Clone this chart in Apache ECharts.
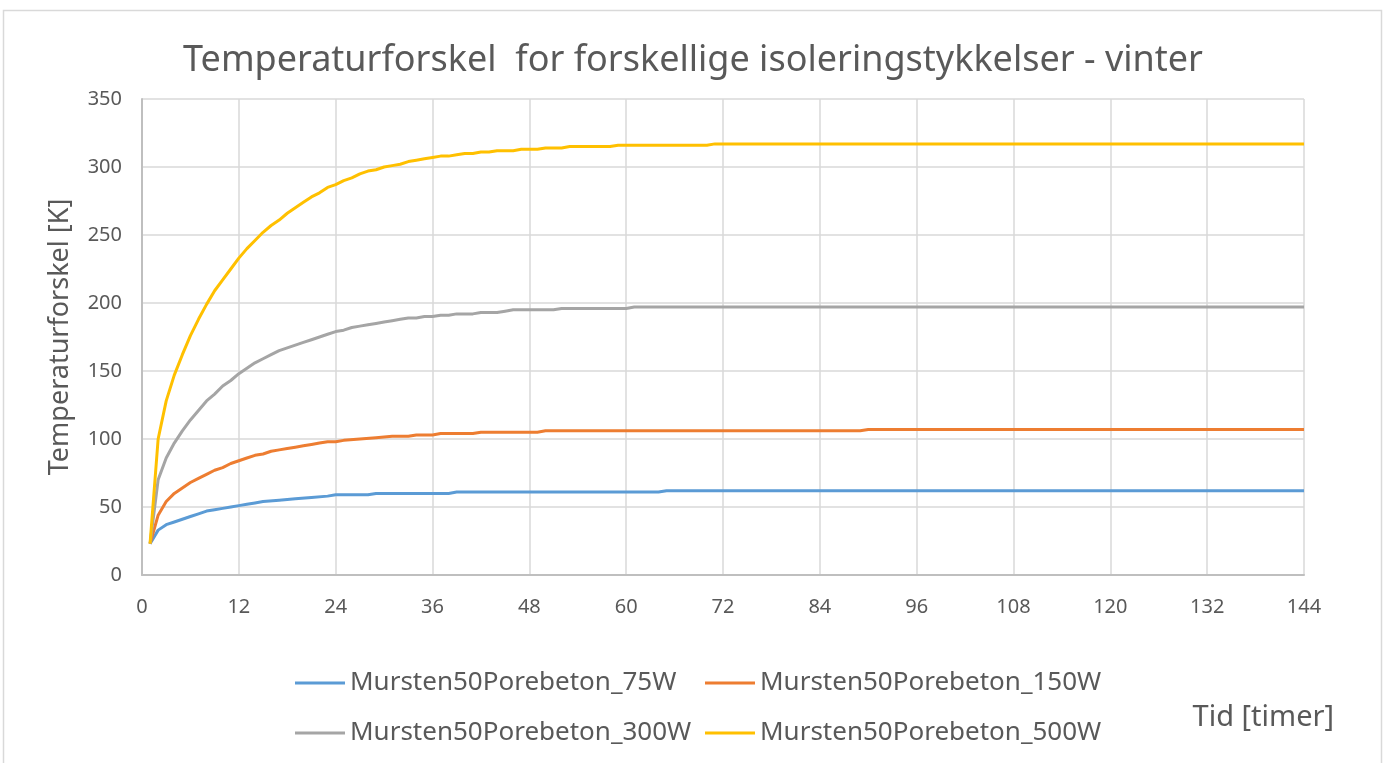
<!DOCTYPE html>
<html>
<head>
<meta charset="utf-8">
<script src="https://cdn.jsdelivr.net/npm/echarts@6/dist/echarts.min.js"></script>
<style>
  html, body { margin: 0; padding: 0; background: #ffffff; }
  #chart { width: 1386px; height: 763px; }
</style>
</head>
<body>
<div id="chart"></div>
<script>
// Temperaturforskel over tid for fire varmeeffekter (hourly breakpoints, integer kelvin)
const hours75 = [1,2,3,4,5,6,7,8,9,10,11,12,13,14,15,17,19,21,23,24,28,29,38,39,64,65,144];
const temp75  = [23,33,37,39,41,43,45,47,48,49,50,51,52,53,54,55,56,57,58,59,59,60,60,61,61,62,62];

const hours150 = [1,2,3,4,5,6,7,8,9,10,11,12,13,14,15,16,17,18,19,20,21,22,23,24,25,27,29,31,33,34,36,37,41,42,49,50,89,90,144];
const temp150  = [23,44,54,60,64,68,71,74,77,79,82,84,86,88,89,91,92,93,94,95,96,97,98,98,99,100,101,102,102,103,103,104,104,105,105,106,106,107,107];

const hours300 = [1,2,3,4,5,6,7,8,9,10,11,12,13,14,15,16,17,18,19,20,21,22,23,24,25,26,27,28,29,30,31,32,33,34,35,36,37,38,39,41,42,44,45,46,51,52,60,61,144];
const temp300  = [23,70,86,97,106,114,121,128,133,139,143,148,152,156,159,162,165,167,169,171,173,175,177,179,180,182,183,184,185,186,187,188,189,189,190,190,191,191,192,192,193,193,194,195,195,196,196,197,197];

const hours500 = [1,2,3,4,5,6,7,8,9,10,11,12,13,14,15,16,17,18,19,20,21,22,23,24,25,26,27,28,29,30,31,32,33,34,35,36,37,38,39,40,41,42,43,44,46,47,49,50,52,53,58,59,70,71,144];
const temp500  = [23,100,128,147,162,176,188,199,209,217,225,233,240,246,252,257,261,266,270,274,278,281,285,287,290,292,295,297,298,300,301,302,304,305,306,307,308,308,309,310,310,311,311,312,312,313,313,314,314,315,315,316,316,317,317];

const seriesNames = ['Mursten50Porebeton_75W', 'Mursten50Porebeton_150W', 'Mursten50Porebeton_300W', 'Mursten50Porebeton_500W'];
const seriesColors = ['#5b9bd5', '#ed7d31', '#a5a5a5', '#ffc000'];
const seriesHours = [hours75, hours150, hours300, hours500];
const seriesTemps = [temp75, temp150, temp300, temp500];

const titleText = 'Temperaturforskel  for forskellige isoleringstykkelser - vinter';
const yAxisTitle = 'Temperaturforskel [K]';
const xAxisTitle = 'Tid [timer]';

const FONT = '"Noto Sans", sans-serif';
const TEXT_COLOR = '#595959';

const zip = (xs, ys) => xs.map((x, i) => [x, ys[i]]);

const chart = echarts.init(document.getElementById('chart'), null, { renderer: 'canvas' });

const legendText = { fontFamily: FONT, fontSize: 26, color: TEXT_COLOR };
const legendBase = {
  orient: 'vertical',
  top: 670,
  padding: 0,
  itemGap: 24,
  itemWidth: 50,
  itemHeight: 3,
  icon: 'rect',
  textStyle: legendText
};

chart.setOption({
  animation: false,
  backgroundColor: '#ffffff',
  title: {
    text: titleText,
    left: 'center',
    top: 38,
    textStyle: { fontFamily: FONT, fontSize: 36, fontWeight: 'normal', color: TEXT_COLOR }
  },
  grid: { left: 142, right: 82, top: 99, bottom: 188, containLabel: false },
  legend: [
    Object.assign({}, legendBase, { data: [seriesNames[0], seriesNames[2]], left: 295 }),
    Object.assign({}, legendBase, { data: [seriesNames[1], seriesNames[3]], left: 705 })
  ],
  xAxis: {
    type: 'value',
    min: 0, max: 144, interval: 12,
    axisLine: { show: true, lineStyle: { color: '#bfbfbf', width: 2 } },
    axisTick: { show: false },
    axisLabel: { fontFamily: FONT, fontSize: 20, color: TEXT_COLOR, margin: 22 },
    splitLine: { show: true, lineStyle: { color: '#d9d9d9', width: 1.5 } }
  },
  yAxis: {
    type: 'value',
    min: 0, max: 350, interval: 50,
    name: yAxisTitle,
    nameLocation: 'middle',
    nameGap: 68,
    nameTextStyle: { fontFamily: FONT, fontSize: 27, color: TEXT_COLOR },
    axisLine: { show: true, lineStyle: { color: '#bfbfbf', width: 2 } },
    axisTick: { show: false },
    axisLabel: { fontFamily: FONT, fontSize: 20, color: TEXT_COLOR, margin: 20 },
    splitLine: { show: true, lineStyle: { color: '#d9d9d9', width: 1.5 } }
  },
  graphic: [
    {
      type: 'rect',
      silent: true,
      shape: { x: 3.5, y: 10.5, width: 1378, height: 800 },
      style: { fill: 'none', stroke: '#d9d9d9', lineWidth: 1.5 }
    },
    {
      type: 'text',
      right: 52, top: 703,
      style: { text: xAxisTitle, fontFamily: FONT, fontSize: 29, fill: TEXT_COLOR }
    }
  ],
  series: seriesNames.map((name, i) => ({
    name,
    type: 'line',
    data: zip(seriesHours[i], seriesTemps[i]),
    showSymbol: false,
    symbol: 'none',
    smooth: false,
    lineStyle: { color: seriesColors[i], width: 3 },
    itemStyle: { color: seriesColors[i] },
    z: 2 + i
  }))
});
</script>
</body>
</html>
